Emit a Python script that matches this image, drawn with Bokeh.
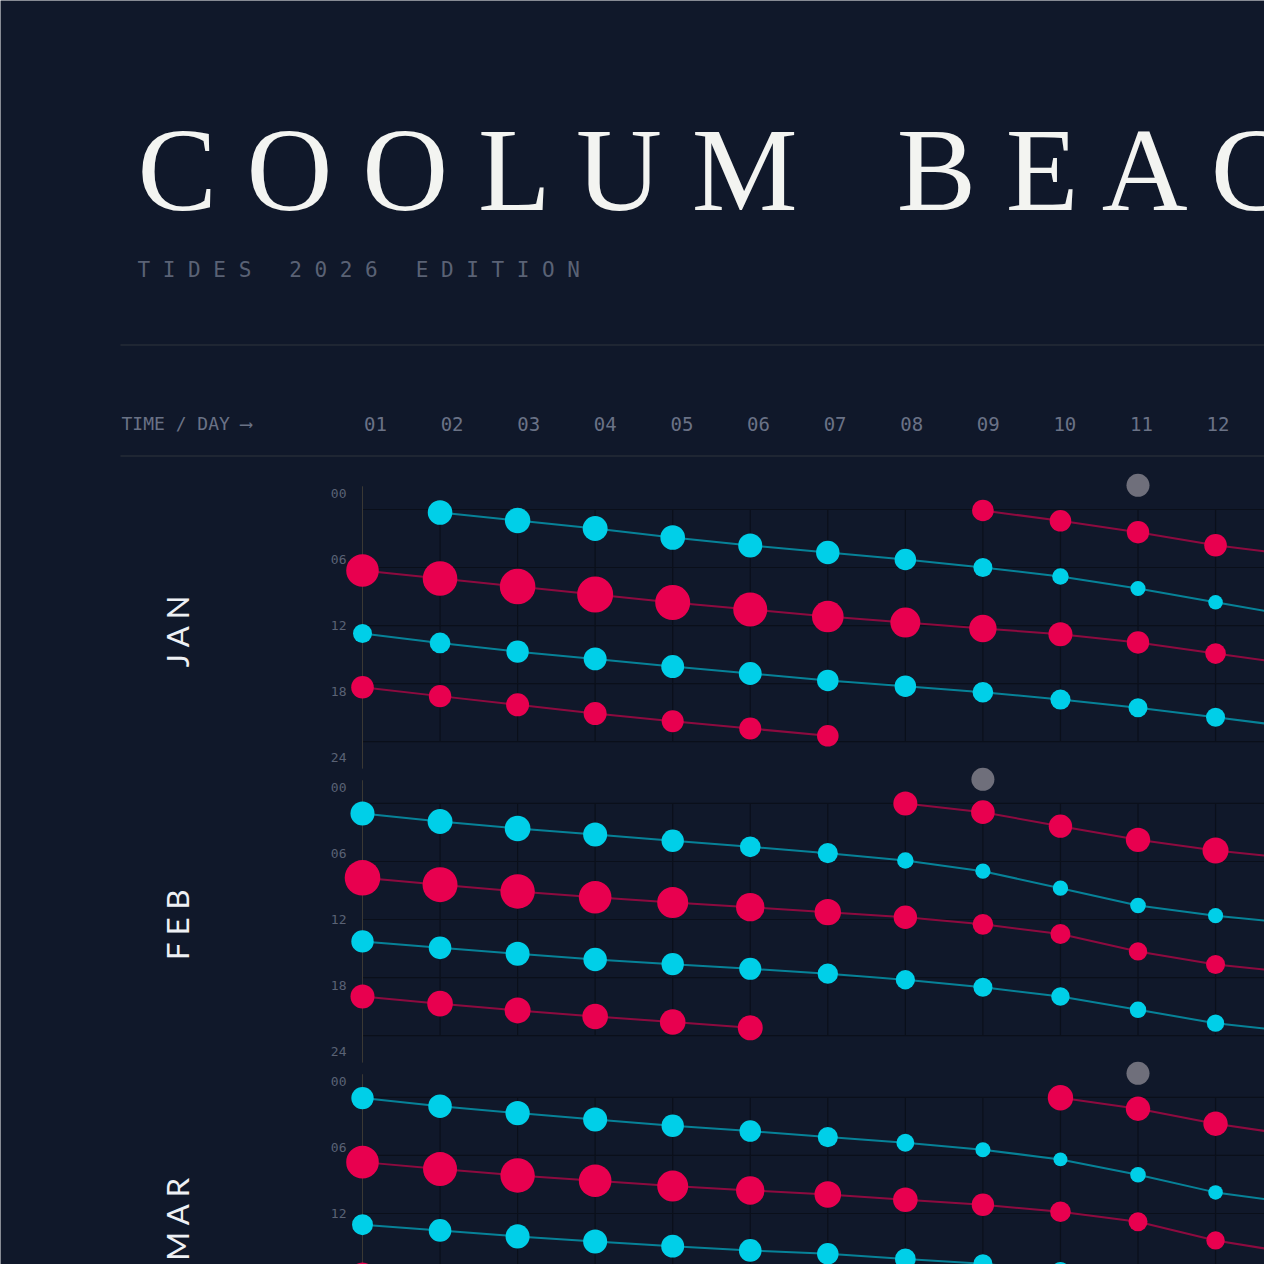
from math import pi
from bokeh.plotting import figure
from bokeh.models import Range1d, ColumnDataSource, LinearInterpolator
from bokeh.transform import transform
from bokeh.core.properties import value
from bokeh.embed import file_html
from bokeh.resources import INLINE

# ---------------- data ----------------
MONTHS = ["J A N", "F E B", "M A R"]
DAYS = list(range(1, 14))
DAY_LABELS = ["01", "02", "03", "04", "05", "06", "07", "08", "09", "10", "11", "12"]
HOUR_TICKS = ["00", "06", "12", "18", "24"]
N = None

# tide times (hour of day) and heights (m) per day 1..13; None = no event in that track
JAN_LOW1_T = [N, 0.31, 1.14, 1.96, 2.9, 3.72, 4.45, 5.17, 6.0, 6.93, 8.17, 9.6, 11.0]
JAN_LOW1_H = [N, 0.05, 0.02, 0.04, 0.05, 0.07, 0.09, 0.16, 0.25, 0.34, 0.39, 0.41, 0.43]
JAN_HIGH1_T = [6.31, 7.14, 7.96, 8.79, 9.62, 10.34, 11.07, 11.69, 12.3, 12.9, 13.75, 14.9, 16.0]
JAN_HIGH1_H = [1.83, 1.93, 1.98, 2.0, 1.95, 1.90, 1.78, 1.70, 1.57, 1.40, 1.32, 1.23, 1.18]
JAN_LOW2_T = [12.82, 13.8, 14.7, 15.45, 16.24, 16.96, 17.68, 18.27, 18.9, 19.65, 20.5, 21.48, 22.5]
JAN_LOW2_H = [0.25, 0.19, 0.13, 0.11, 0.11, 0.11, 0.16, 0.16, 0.19, 0.21, 0.25, 0.25, 0.26]
JAN_HIGH2_T = [18.38, 19.3, 20.2, 21.1, 21.9, 22.65, 23.4, N, N, N, N, N, N]
JAN_HIGH2_H = [1.33, 1.32, 1.35, 1.35, 1.30, 1.30, 1.28, N, N, N, N, N, N]
JAN_HIGH0_T = [N, N, N, N, N, N, N, N, 0.1, 1.17, 2.35, 3.69, 4.7]
JAN_HIGH0_H = [N, N, N, N, N, N, N, N, 1.28, 1.28, 1.32, 1.33, 1.35]

FEB_LOW1_T = [1.03, 1.86, 2.59, 3.2, 3.86, 4.48, 5.14, 5.9, 7.0, 8.76, 10.55, 11.6, 12.4]
FEB_LOW1_H = [0.07, 0.04, 0.01, 0.07, 0.13, 0.19, 0.21, 0.34, 0.39, 0.38, 0.37, 0.39, 0.41]
FEB_HIGH1_T = [7.69, 8.4, 9.1, 9.69, 10.24, 10.72, 11.24, 11.76, 12.5, 13.5, 15.3, 16.65, 17.5]
FEB_HIGH1_H = [1.98, 1.95, 1.92, 1.83, 1.75, 1.62, 1.52, 1.37, 1.23, 1.20, 1.12, 1.15, 1.17]
FEB_LOW2_T = [14.27, 14.93, 15.55, 16.13, 16.62, 17.1, 17.6, 18.23, 19.0, 19.96, 21.34, 22.72, 23.6]
FEB_LOW2_H = [0.13, 0.12, 0.07, 0.09, 0.13, 0.14, 0.20, 0.24, 0.25, 0.27, 0.34, 0.31, 0.31]
FEB_HIGH2_T = [19.96, 20.7, 21.4, 22.03, 22.6, 23.2, N, N, N, N, N, N, N]
FEB_HIGH2_H = [1.40, 1.48, 1.50, 1.48, 1.48, 1.45, N, N, N, N, N, N, N]
FEB_HIGH0_T = [N, N, N, N, N, N, N, 0.0, 0.9, 2.35, 3.76, 4.86, 5.7]
FEB_HIGH0_H = [N, N, N, N, N, N, N, 1.40, 1.38, 1.37, 1.42, 1.50, 1.52]

MAR_LOW1_T = [0.07, 0.9, 1.62, 2.28, 2.93, 3.48, 4.1, 4.69, 5.41, 6.41, 8.0, 9.82, 10.9]
MAR_LOW1_H = [0.13, 0.09, 0.06, 0.07, 0.13, 0.16, 0.21, 0.29, 0.39, 0.43, 0.37, 0.41, 0.41]
MAR_HIGH1_T = [6.69, 7.41, 8.07, 8.62, 9.17, 9.62, 10.03, 10.58, 11.1, 11.82, 12.86, 14.79, 16.1]
MAR_HIGH1_H = [1.83, 1.90, 1.92, 1.83, 1.75, 1.62, 1.53, 1.43, 1.32, 1.23, 1.15, 1.12, 1.13]
MAR_LOW2_T = [13.16, 13.75, 14.37, 14.89, 15.38, 15.82, 16.17, 16.7, 17.2, 17.96, 18.5, 19.3, 20.2]
MAR_LOW2_H = [0.18, 0.12, 0.07, 0.07, 0.11, 0.12, 0.16, 0.19, 0.25, 0.27, 0.32, 0.32, 0.32]
MAR_HIGH2_T = [18.3, 18.8, 19.4, N, N, N, N, N, N, N, N, N, N]
MAR_HIGH2_H = [1.40, 1.45, 1.48, N, N, N, N, N, N, N, N, N, N]
MAR_HIGH0_T = [N, N, N, N, N, N, N, N, N, 0.03, 1.17, 2.72, 3.9]
MAR_HIGH0_H = [N, N, N, N, N, N, N, N, N, 1.47, 1.42, 1.42, 1.40]

# last-quarter moon day per month
MOON_DAYS = [11, 9, 11]

# ---------------- style / layout ----------------
BG = "#10182a"
RED = "#e8004f"
CYAN = "#00cfe8"
GREY = "#6f6f7b"
TXT = "#6a7286"
DIM = "#5a6275"
GRID = "#0a0f1a"
RULE = "#252b37"
AXIS = "#3a3834"

W = H = 1264
PX_DAY = 77.55          # px per day
PX_HOUR = 9.67          # px per hour
ORIGIN_X = 362          # canvas x of day 1
ORIGIN_Y = 509          # canvas y of JAN 00:00
MONTH_GAP = 30.4        # hours between month blocks
MOON_OFF = -2.5         # hours above block for moon marker
NB = "\u00a0"

x0 = 1 - ORIGIN_X / PX_DAY
x1 = 1 + (W - ORIGIN_X) / PX_DAY
y0 = -ORIGIN_Y / PX_HOUR
y1 = (H - ORIGIN_Y) / PX_HOUR


def X(px):
    return 1 + (px - ORIGIN_X) / PX_DAY


def Y(py):
    return (py - ORIGIN_Y) / PX_HOUR


p = figure(width=W, height=H, x_range=Range1d(x0, x1), y_range=Range1d(y1, y0),
           output_backend="svg", toolbar_location=None, min_border=0)
p.axis.visible = False
p.grid.visible = False
p.outline_line_color = None
p.background_fill_color = BG
p.border_fill_color = BG

MONO = value("DejaVu Sans Mono")

# title
p.text(x=[X(137)], y=[Y(169)], text=["C O O L U M" + NB * 3 + "\u200aB E A C H"],
       text_font=value("Liberation Serif"), text_font_size="119px",
       text_color="#f3f4f1", text_align="left", text_baseline="middle")
p.text(x=[X(137)], y=[Y(269)], text=["T I D E S" + NB * 3 + "2 0 2 6" + NB * 3 + "E D I T I O N"],
       text_font=MONO, text_font_size="21px", text_color=DIM,
       text_align="left", text_baseline="middle")

# rules
p.segment(x0=[X(120), X(120)], x1=[X(1400), X(1400)], y0=[Y(344.5), Y(455.5)],
          y1=[Y(344.5), Y(455.5)], line_color=RULE, line_width=1.5)

# header
p.text(x=[X(121)], y=[Y(423)], text=["TIME / DAY \u27f6"], text_font=MONO,
       text_font_size="18px", text_color=TXT, text_align="left", text_baseline="middle")
p.text(x=[d * 0.9877 + 0.18 for d in DAYS[:len(DAY_LABELS)]], y=[Y(423)] * len(DAY_LABELS),
       text=DAY_LABELS, text_font=MONO, text_font_size="19px", text_color=TXT,
       text_align="center", text_baseline="middle")

months = [
    [(JAN_HIGH0_T, JAN_HIGH0_H, "high"), (JAN_LOW1_T, JAN_LOW1_H, "low"),
     (JAN_HIGH1_T, JAN_HIGH1_H, "high"), (JAN_LOW2_T, JAN_LOW2_H, "low"),
     (JAN_HIGH2_T, JAN_HIGH2_H, "high")],
    [(FEB_HIGH0_T, FEB_HIGH0_H, "high"), (FEB_LOW1_T, FEB_LOW1_H, "low"),
     (FEB_HIGH1_T, FEB_HIGH1_H, "high"), (FEB_LOW2_T, FEB_LOW2_H, "low"),
     (FEB_HIGH2_T, FEB_HIGH2_H, "high")],
    [(MAR_HIGH0_T, MAR_HIGH0_H, "high"), (MAR_LOW1_T, MAR_LOW1_H, "low"),
     (MAR_HIGH1_T, MAR_HIGH1_H, "high"), (MAR_LOW2_T, MAR_LOW2_H, "low"),
     (MAR_HIGH2_T, MAR_HIGH2_H, "high")],
]

high_size = LinearInterpolator(x=[1.0, 2.0], y=[16, 36])
low_size = LinearInterpolator(x=[0.0, 0.5], y=[26, 12])

dots = []
for m, (label, series) in enumerate(zip(MONTHS, months)):
    off = m * MONTH_GAP
    # grid
    p.segment(x0=DAYS[1:], x1=DAYS[1:], y0=[off] * (len(DAYS) - 1),
              y1=[off + 24] * (len(DAYS) - 1), line_color=GRID, line_width=1.2)
    p.segment(x0=[1] * 5, x1=[x1 + 1] * 5, y0=[off + 6 * k for k in range(5)],
              y1=[off + 6 * k for k in range(5)], line_color=GRID, line_width=1.2)
    p.segment(x0=[1], x1=[1], y0=[off - 2.4], y1=[off + 26.8], line_color=AXIS, line_width=1)
    # hour labels
    p.text(x=[X(346)] * 5, y=[off - 1.65 + 6.825 * k for k in range(5)], text=HOUR_TICKS,
           text_font=MONO, text_font_size="13px", text_color=DIM,
           text_align="right", text_baseline="middle")
    # month label
    p.text(x=[X(176)], y=[off + 12.5], text=[label], angle=pi / 2,
           text_font=value("Lato"), text_font_size="31px", text_color="#eef0f4",
           text_align="center", text_baseline="middle")
    for times, hts, kind in series:
        color = RED if kind == "high" else CYAN
        seg_x, seg_y = [], []
        for d, t in zip(DAYS, times):
            if t is None:
                if len(seg_x) > 1:
                    p.line(seg_x, seg_y, line_color=color, line_alpha=0.58, line_width=2)
                seg_x, seg_y = [], []
            else:
                seg_x.append(d)
                seg_y.append(off + t)
        if len(seg_x) > 1:
            p.line(seg_x, seg_y, line_color=color, line_alpha=0.58, line_width=2)
        xs = [d for d, t in zip(DAYS, times) if t is not None]
        ys = [off + t for t in times if t is not None]
        hs = [h for h in hts if h is not None]
        dots.append((xs, ys, hs, kind))
    dots.append(([MOON_DAYS[m]], [off + MOON_OFF], [0], "moon"))

for xs, ys, hs, kind in dots:
    src = ColumnDataSource(dict(x=xs, y=ys, ht=hs))
    if kind == "high":
        p.scatter("x", "y", source=src, size=transform("ht", high_size),
                  fill_color=RED, line_color=None)
    elif kind == "low":
        p.scatter("x", "y", source=src, size=transform("ht", low_size),
                  fill_color=CYAN, line_color=None)
    else:
        p.scatter("x", "y", source=src, size=23, fill_color=GREY, line_color=None)

open("out.html", "w").write(file_html(p, INLINE))
